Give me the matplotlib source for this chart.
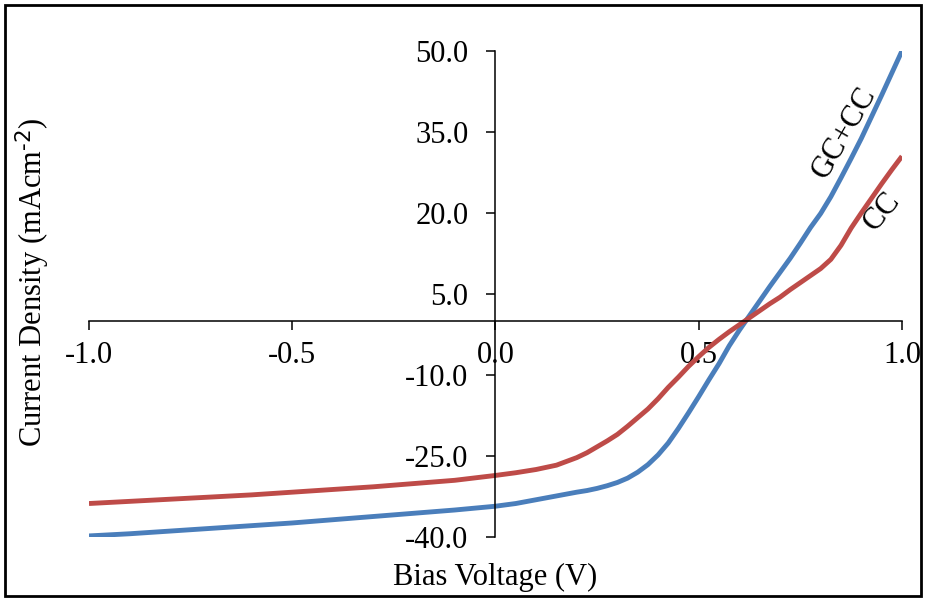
import numpy as np
import matplotlib.pyplot as plt
from matplotlib.patches import Rectangle

plt.rcParams['font.family'] = ['Liberation Serif', 'DejaVu Serif']
plt.rcParams['mathtext.default'] = 'regular'

# Напруга зміщення (В)
voltage = [-1.0, -0.9, -0.8, -0.7, -0.6, -0.5, -0.4, -0.3, -0.2, -0.1,
           0.0, 0.05, 0.1, 0.15, 0.2, 0.225, 0.25, 0.275, 0.3, 0.325,
           0.35, 0.375, 0.4, 0.425, 0.45, 0.475, 0.5, 0.525, 0.55, 0.575,
           0.6, 0.625, 0.65, 0.675, 0.7, 0.725, 0.75, 0.775, 0.8, 0.825,
           0.85, 0.875, 0.9, 0.925, 0.95, 0.975, 1.0]

# Густина струму, GC+CC
j_gc_cc = [-39.8, -39.4, -38.9, -38.4, -37.9, -37.4, -36.8, -36.2, -35.6, -35.0,
           -34.3, -33.8, -33.1, -32.4, -31.7, -31.4, -31.0, -30.5, -29.9, -29.1,
           -28.0, -26.6, -24.8, -22.6, -19.9, -17.0, -14.0, -10.9, -7.9, -4.6,
           -1.7, 1.0, 3.7, 6.4, 9.0, 11.6, 14.4, 17.3, 19.9, 23.0,
           26.5, 30.1, 33.8, 37.8, 41.8, 45.9, 50.0]

# Густина струму, CC
j_cc = [-33.8, -33.4, -33.0, -32.6, -32.2, -31.7, -31.2, -30.7, -30.1, -29.5,
        -28.6, -28.1, -27.5, -26.7, -25.3, -24.4, -23.3, -22.2, -21.0, -19.5,
        -17.9, -16.3, -14.4, -12.3, -10.4, -8.4, -6.6, -4.9, -3.4, -2.0,
        -0.7, 0.6, 1.9, 3.2, 4.4, 5.8, 7.1, 8.4, 9.7, 11.4,
        14.0, 17.2, 20.0, 22.7, 25.4, 28.0, 30.5]

x_ticks = [-1.0, -0.5, 0.0, 0.5, 1.0]
y_ticks = [-40.0, -25.0, -10.0, 5.0, 20.0, 35.0, 50.0]

fig = plt.figure(figsize=(9.27, 5.99), dpi=100)
ax = fig.add_axes([0.096, 0.1035, 0.877, 0.8115])

ax.plot(voltage, j_gc_cc, color='#4A7EBB', lw=3.5, solid_capstyle='butt', solid_joinstyle='round')
ax.plot(voltage, j_cc, color='#BE4B48', lw=3.5, solid_capstyle='butt', solid_joinstyle='round')

ax.set_xlim(-1.0, 1.0)
ax.set_ylim(-40, 50)

# осі через нуль
ax.spines['left'].set_position(('data', 0))
ax.spines['bottom'].set_position(('data', 0))
ax.spines['right'].set_visible(False)
ax.spines['top'].set_visible(False)
for s in ('left', 'bottom'):
    ax.spines[s].set_linewidth(1.1)

ax.set_xticks(x_ticks)
ax.set_xticklabels([f'{v:.1f}' for v in x_ticks])
ax.set_yticks(y_ticks)
ax.set_yticklabels([f'{v:.1f}' for v in y_ticks])
ax.tick_params(axis='x', direction='out', length=6.5, width=1.1, pad=8, labelsize=22)
ax.tick_params(axis='y', direction='out', length=6.5, width=1.1, pad=13, labelsize=22)

ax.set_xlabel('Bias Voltage (V)', fontsize=22)
ax.xaxis.set_label_coords(0.5, -0.084)
ax.xaxis.label.set_va('center')
ax.set_ylabel(r'Current Density (mAcm$^{\text{-2}}$)', fontsize=22)
ax.yaxis.set_label_coords(-0.069, 0.525)
ax.yaxis.label.set_va('center')

ax.text(0.859, 34.9, 'GC+CC', fontsize=22, rotation=60, ha='center', va='center')
ax.text(0.95, 20.2, 'CC', fontsize=22, rotation=50, ha='center', va='center')

# рамка навколо рисунка
fig.patches.append(Rectangle((5 / 927, 3 / 599), 916 / 927, 591 / 599,
                             transform=fig.transFigure, fill=False,
                             edgecolor='black', lw=2))

fig.savefig('out.png', dpi=100)
